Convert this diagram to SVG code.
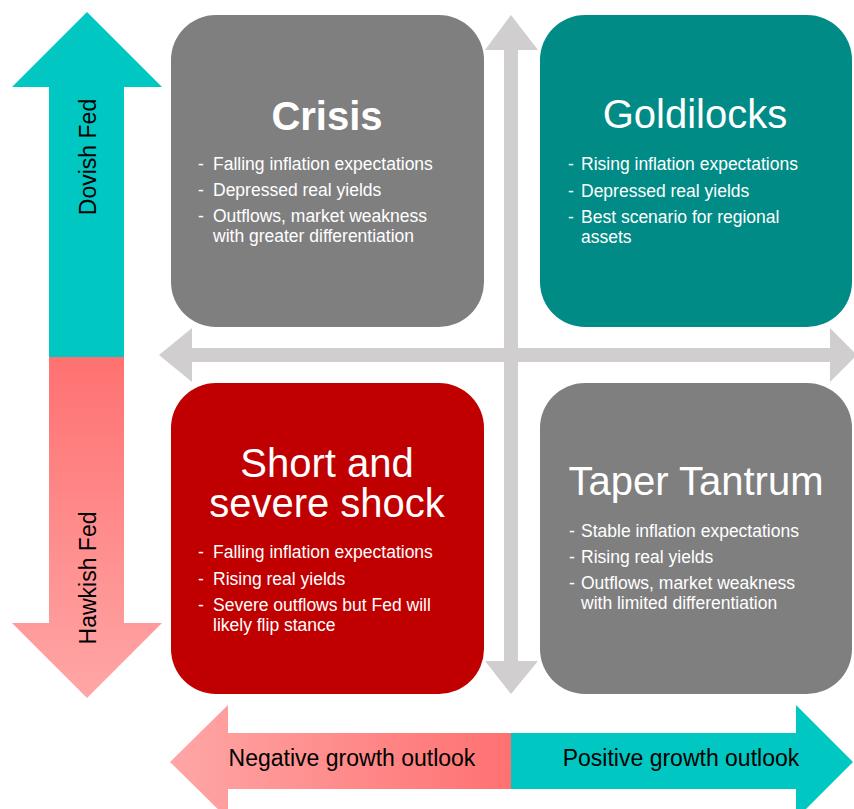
<svg xmlns="http://www.w3.org/2000/svg" width="854" height="809" viewBox="0 0 854 809">
<defs>
<linearGradient id="gv" x1="0" y1="357" x2="0" y2="698" gradientUnits="userSpaceOnUse">
<stop offset="0" stop-color="#FF7171"/><stop offset="1" stop-color="#FFA6A6"/>
</linearGradient>
<linearGradient id="gh" x1="170" y1="0" x2="511" y2="0" gradientUnits="userSpaceOnUse">
<stop offset="0" stop-color="#FFA6A6"/><stop offset="1" stop-color="#FF7171"/>
</linearGradient>
<style>
.box-gray{fill:#7F7F7F}
.box-teal{fill:#008B86}
.box-red{fill:#C00000}
.teal{fill:#00C7C2}
.axis{fill:#D0CECE}
.t{font-family:"Liberation Sans",Arial,sans-serif;fill:#FFFFFF}
.title{font-size:40px;text-anchor:middle}
.b{font-size:17.5px}
.lab{font-family:"Liberation Sans",Arial,sans-serif;fill:#000000;font-size:23px;text-anchor:middle}
</style>
</defs>
<rect width="854" height="809" fill="#FFFFFF"/>

<g id="connectors">
<polygon class="axis" points="511,15 538,50 518,50 518,661 538,661 511,694 485,661 504,661 504,50 485,50"/>
<polygon class="axis" points="159,355 192,328 192,348 830,348 830,328 857,355 830,382 830,362 192,362 192,382"/>
</g>

<g id="fed-axis">
<polygon class="teal" points="87,12 162,87 124,87 124,357 49,357 49,87 12,87"/>
<polygon fill="url(#gv)" points="49,357 124,357 124,623 162,623 87,698 12,623 49,623"/>
<text class="lab" transform="translate(96,157) rotate(-90)">Dovish Fed</text>
<text class="lab" transform="translate(96,578) rotate(-90)">Hawkish Fed</text>
</g>

<g id="growth-axis">
<polygon fill="url(#gh)" points="170,762 228,705 228,733 511,733 511,789 228,789 228,819"/>
<polygon class="teal" points="511,733 796,733 796,705 853,762 796,819 796,789 511,789"/>
<text class="lab" x="352" y="766">Negative growth outlook</text>
<text class="lab" x="681" y="766">Positive growth outlook</text>
</g>

<g id="crisis">
<rect class="box-gray" x="171" y="15" width="313" height="312" rx="45"/>
<text class="t title" x="327" y="130" font-weight="bold" font-size="39">Crisis</text>
<text class="t b" x="198" y="170">-</text><text class="t b" x="213" y="170">Falling inflation expectations</text>
<text class="t b" x="198" y="196">-</text><text class="t b" x="213" y="196">Depressed real yields</text>
<text class="t b" x="198" y="222">-</text><text class="t b" x="213" y="222">Outflows, market weakness</text>
<text class="t b" x="213" y="242">with greater differentiation</text>
</g>

<g id="goldilocks">
<rect class="box-teal" x="540" y="15" width="312" height="312" rx="45"/>
<text class="t title" x="695" y="128">Goldilocks</text>
<text class="t b" x="568" y="170">-</text><text class="t b" x="581" y="170">Rising inflation expectations</text>
<text class="t b" x="568" y="197">-</text><text class="t b" x="581" y="197">Depressed real yields</text>
<text class="t b" x="568" y="223">-</text><text class="t b" x="581" y="223">Best scenario for regional</text>
<text class="t b" x="581" y="243">assets</text>
</g>

<g id="short-severe-shock">
<rect class="box-red" x="171" y="383" width="313" height="311" rx="45"/>
<text class="t title" x="327" y="477">Short and</text>
<text class="t title" x="327" y="517">severe shock</text>
<text class="t b" x="198" y="558">-</text><text class="t b" x="213" y="558">Falling inflation expectations</text>
<text class="t b" x="198" y="585">-</text><text class="t b" x="213" y="585">Rising real yields</text>
<text class="t b" x="198" y="611">-</text><text class="t b" x="213" y="611">Severe outflows but Fed will</text>
<text class="t b" x="213" y="631">likely flip stance</text>
</g>

<g id="taper-tantrum">
<rect class="box-gray" x="540" y="383" width="312" height="311" rx="45"/>
<text class="t title" x="696" y="495" font-size="38">Taper Tantrum</text>
<text class="t b" x="569" y="537">-</text><text class="t b" x="581" y="537">Stable inflation expectations</text>
<text class="t b" x="569" y="563">-</text><text class="t b" x="581" y="563">Rising real yields</text>
<text class="t b" x="569" y="589">-</text><text class="t b" x="581" y="589">Outflows, market weakness</text>
<text class="t b" x="581" y="609">with limited differentiation</text>
</g>
</svg>
